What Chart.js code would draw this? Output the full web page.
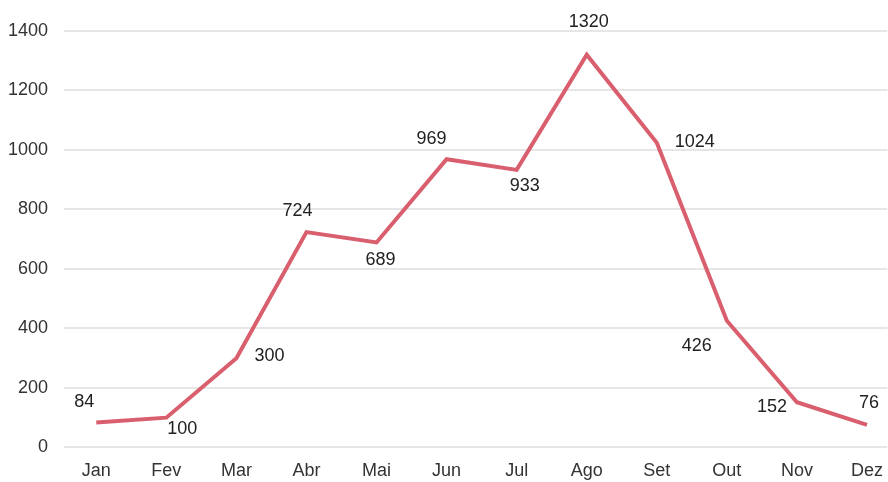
<!DOCTYPE html>
<html>
<head>
<meta charset="utf-8">
<script src="https://cdn.jsdelivr.net/npm/chart.js@4.4.0/dist/chart.umd.min.js"></script>
<style>
  html, body { margin: 0; padding: 0; background: #fff; }
  #wrap { width: 888px; height: 482px; }
</style>
</head>
<body>
<div id="wrap"><canvas id="chart"></canvas></div>
<script>
const months = ['Jan', 'Fev', 'Mar', 'Abr', 'Mai', 'Jun', 'Jul', 'Ago', 'Set', 'Out', 'Nov', 'Dez'];
const values = [84, 100, 300, 724, 689, 969, 933, 1320, 1024, 426, 152, 76];
const yTicks = [0, 200, 400, 600, 800, 1000, 1200, 1400];

const fontFamily = '"Liberation Sans", Arial, sans-serif';

// label offsets from each point (px)
const labelDx = [-12, 16, 33, -9, 4, -15, 8, 2, 38, -30, -25, 2];
const labelDy = [-20, 11, -2, -21, 18, -20, 16, -33, -1, 25, 5, -22];

const pointLabels = {
    id: 'pointLabels',
    afterDatasetsDraw(chart) {
        const ctx = chart.ctx;
        const meta = chart.getDatasetMeta(0);
        ctx.save();
        ctx.font = '18px ' + fontFamily;
        ctx.fillStyle = '#222';
        ctx.textAlign = 'center';
        ctx.textBaseline = 'middle';
        meta.data.forEach(function(pt, i) {
            ctx.fillText(String(values[i]), pt.x + labelDx[i], pt.y + labelDy[i]);
        });
        ctx.restore();
    }
};

new Chart(document.getElementById('chart'), {
    type: 'line',
    data: {
        datasets: [{
            data: values.map((v, i) => ({ x: i, y: v })),
            borderColor: '#d95f6e',
            borderWidth: 4,
            pointRadius: 0,
            tension: 0,
            fill: false
        }]
    },
    options: {
        responsive: true,
        maintainAspectRatio: false,
        animation: false,
        layout: { padding: { top: 31, right: 0, left: -8, bottom: -5 } },
        plugins: { legend: { display: false }, tooltip: { enabled: false } },
        scales: {
            x: {
                type: 'linear',
                min: -0.46,
                max: 11.29,
                afterBuildTicks(axis) {
                    axis.ticks = months.map((m, i) => ({ value: i }));
                },
                ticks: {
                    callback: (v) => months[v],
                    color: '#333',
                    font: { size: 18, family: fontFamily },
                    padding: 5,
                    autoSkip: false,
                    maxRotation: 0
                },
                grid: { display: false },
                border: { display: false }
            },
            y: {
                min: 0,
                max: 1400,
                afterBuildTicks(axis) {
                    axis.ticks = yTicks.map(v => ({ value: v }));
                },
                ticks: {
                    callback: (v) => String(v),
                    color: '#333',
                    font: { size: 18, family: fontFamily },
                    padding: 16
                },
                grid: { color: '#e6e6e6', lineWidth: 2, drawTicks: false },
                border: { display: false }
            }
        }
    },
    plugins: [pointLabels]
});
</script>
</body>
</html>
